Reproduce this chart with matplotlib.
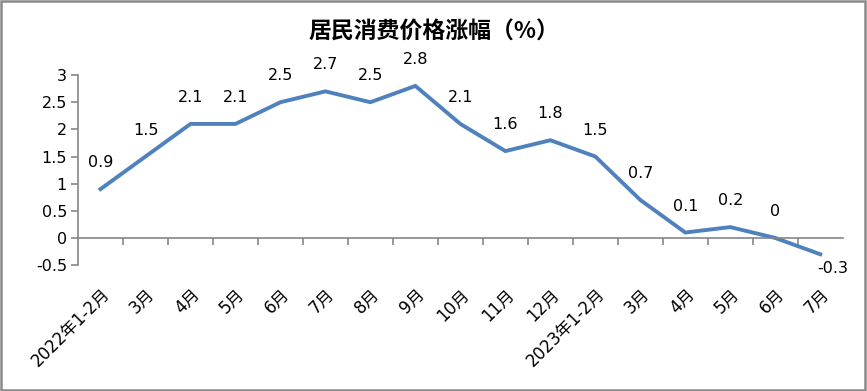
import matplotlib

matplotlib.use("Agg")

import matplotlib.pyplot as plt
from matplotlib.patches import Rectangle

plt.rcParams["font.family"] = ["DejaVu Sans", "Noto Sans CJK SC"]

MONTHS = [
    "2022年1-2月", "3月", "4月", "5月", "6月", "7月", "8月", "9月", "10月", "11月", "12月",
    "2023年1-2月", "3月", "4月", "5月", "6月", "7月",
]
CPI = [0.9, 1.5, 2.1, 2.1, 2.5, 2.7, 2.5, 2.8, 2.1, 1.6, 1.8, 1.5, 0.7, 0.1, 0.2, 0, -0.3]
Y_TICKS = [-0.5, 0, 0.5, 1, 1.5, 2, 2.5, 3]

LINE = "#4f81bd"
AXIS = "#868686"


def main() -> None:
    fig = plt.figure(figsize=(8.67, 3.91), dpi=100)
    ax = fig.add_axes([0.09, 0.322, 0.882, 0.486])

    x = list(range(len(CPI)))
    ax.plot(x, CPI, color=LINE, linewidth=2.8, solid_joinstyle="miter")

    for i, v in enumerate(CPI):
        label = f"{v:g}"
        if v < 0:
            ax.annotate(label, (i, v), xytext=(9, -10), textcoords="offset points",
                        ha="center", va="center", fontsize=11.5)
        else:
            ax.annotate(label, (i, v), xytext=(0, 19), textcoords="offset points",
                        ha="center", va="center", fontsize=11.5)

    ax.set_xlim(-0.5, len(CPI) - 0.5)
    ax.set_ylim(-0.5, 3)
    ax.set_yticks(Y_TICKS)
    ax.set_yticklabels([f"{t:g}" for t in Y_TICKS], fontsize=11.5)

    ax.spines["top"].set_visible(False)
    ax.spines["right"].set_visible(False)
    ax.spines["bottom"].set_position(("data", 0))
    for side in ("left", "bottom"):
        ax.spines[side].set_color(AXIS)
        ax.spines[side].set_linewidth(1.2)

    ax.set_xticks(x)
    ax.set_xticklabels(MONTHS, rotation=45, ha="right", va="top",
                       rotation_mode="anchor", fontsize=12)
    ax.set_xticks([i - 0.5 for i in range(1, len(CPI))], minor=True)
    ax.tick_params(axis="x", which="major", length=0, pad=34)
    ax.tick_params(axis="x", which="minor", length=5, width=1.2, color=AXIS, direction="out")
    ax.tick_params(axis="y", length=5, width=1.2, color=AXIS, direction="out", pad=3)

    fig.text(0.5, 0.918, "居民消费价格涨幅（%）", ha="center", va="center",
             fontsize=16.5, fontweight="bold", family=["Noto Sans CJK SC", "DejaVu Sans"])

    fig.patches.append(Rectangle((0.001, 0.002), 0.997, 0.995, transform=fig.transFigure,
                                 fill=False, edgecolor="#898989", linewidth=1.8))

    fig.savefig("out.png", dpi=100)
    plt.close(fig)


if __name__ == "__main__":
    main()
